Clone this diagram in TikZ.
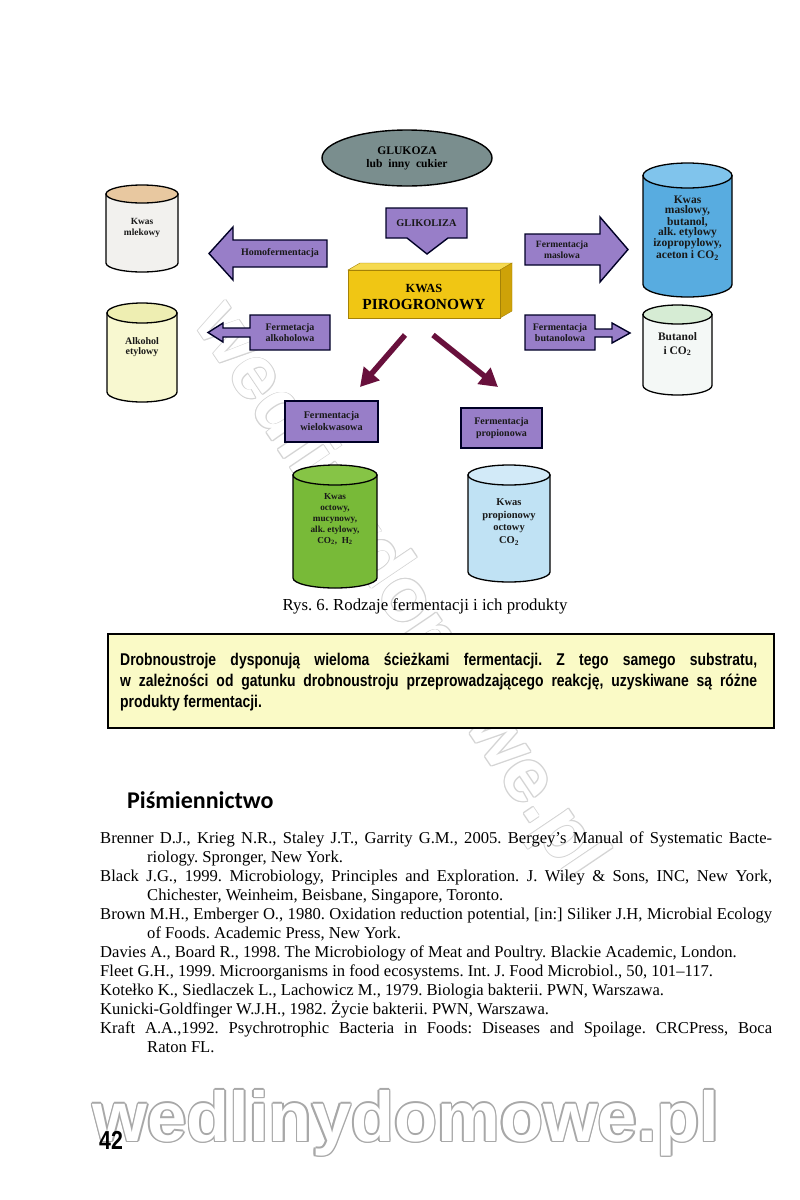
\documentclass[tikz,border=0pt]{standalone}
\usepackage{fontspec}
\setmainfont{Liberation Serif}
\newfontfamily\narrowbold[FakeStretch=0.82]{Liberation Sans Bold}
\newfontfamily\headsans{Carlito}
\newfontfamily\wmsans{Liberation Sans Bold}
\usetikzlibrary{arrows.meta,shapes.geometric,calc}
\frenchspacing
\definecolor{purp}{RGB}{152,126,200}
\definecolor{plum}{RGB}{104,16,60}
\definecolor{glu}{RGB}{122,142,142}
\definecolor{goldF}{RGB}{240,198,20}
\definecolor{goldT}{RGB}{246,218,80}
\definecolor{goldS}{RGB}{206,162,8}
\definecolor{mlekT}{RGB}{232,200,160}
\definecolor{mlekB}{RGB}{242,241,238}
\definecolor{alkT}{RGB}{238,238,178}
\definecolor{alkB}{RGB}{248,248,208}
\definecolor{masT}{RGB}{128,196,236}
\definecolor{masB}{RGB}{88,172,224}
\definecolor{butT}{RGB}{214,236,212}
\definecolor{butB}{RGB}{244,248,246}
\definecolor{grnT}{RGB}{134,196,70}
\definecolor{grnB}{RGB}{120,186,56}
\definecolor{proT}{RGB}{210,234,248}
\definecolor{proB}{RGB}{192,226,244}
\definecolor{noteY}{RGB}{250,250,198}
\definecolor{wmline}{RGB}{168,168,168}
\definecolor{wmfaint}{RGB}{212,212,212}

% cylinder: #1 cx, #2 top-centre y, #3 bottom-centre y, #4 half width, #5 y radius, #6 top colour, #7 body colour
\newcommand{\cyl}[7]{%
  \path[cylline,fill=#7] ({#1-#4},#2) -- ({#1-#4},#3)
     arc[start angle=180,end angle=0,x radius=#4,y radius=#5] -- ({#1+#4},#2) -- cycle;
  \path[cylline,fill=#6] (#1,#2) ellipse[x radius=#4,y radius=#5];
}
% outlined text: #1 name, #2 position, #3 angle, #4 size, #5 outline colour, #6 offset, #7 text
\newcommand{\outlinetext}[7]{%
  \foreach \a in {0,45,...,315}{
    \node[wmtext,font=\wmsans\fontsize{#4}{#4}\selectfont,text=#5,rotate=#3] (#1-\a) at ($(#2)+(\a:#6)$) {#7};
  }
  \node[wmtext,font=\wmsans\fontsize{#4}{#4}\selectfont,text=white,rotate=#3] (#1) at (#2) {#7};
}
\newcommand{\lblsize}[2]{\bfseries\fontsize{#1}{#2}\selectfont}

\tikzset{
  cylline/.style={draw=black,line width=1.3pt},
  parrow/.style={fill=purp,draw=black!85!blue,line width=1.4pt,line join=miter},
  lbl/.style={font=\lblsize{10}{11},align=center,inner sep=0pt,text=black!90},
  darr/.style={draw=plum,line width=5.5pt,-{Triangle[length=18pt,width=20pt]}},
  wmtext/.style={inner sep=0pt},
  reftext/.style={font=\fontsize{16.6}{19}\selectfont,anchor=base west,inner sep=0pt},
  notetext/.style={font=\narrowbold\fontsize{17}{20}\selectfont,anchor=base west,inner sep=0pt}
}

\begin{document}
\begin{tikzpicture}[x=1pt,y=-1pt]
\useasboundingbox (0,0) rectangle (800,1200);
\fill[white] (0,0) rectangle (800,1200);

% diagonal watermark (background)
\outlinetext{wmdiag}{398,592}{-56}{76}{wmfaint}{0.9}{wedlinydomowe.pl}

% GLUKOZA
\node[ellipse,draw=black,line width=1.4pt,fill=glu,minimum width=170pt,minimum height=56pt,
      align=center,font=\lblsize{11.6}{13},inner sep=0pt] (glu) at (407,158)
      {GLUKOZA\\lub\ \ inny\ \ cukier};

% GLIKOLIZA arrow (down)
\path[parrow] (386,208) -- (467,208) -- (467,238) -- (448,238) -- (427,254) -- (407,238) -- (386,238) -- cycle;
\node[lbl,font=\lblsize{10.3}{11}] (glik) at (426.5,223) {GLIKOLIZA};

% KWAS PIROGRONOWY block
\path[fill=goldT,draw=goldS!80!black,line width=0.4pt] (348,270) -- (360,263) -- (512,263) -- (500,270) -- cycle;
\path[fill=goldS,draw=goldS!80!black,line width=0.4pt] (500,270) -- (512,263) -- (512,311) -- (500,318) -- cycle;
\path[fill=goldF,draw=goldS!80!black,line width=0.4pt] (348,270) rectangle (500,318);
\node[font=\lblsize{12.4}{12.4},inner sep=0pt,anchor=base] (kwas) at (424,292) {KWAS};
\node[font=\lblsize{15.4}{15.4},inner sep=0pt,anchor=base] (piro) at (424,309) {PIROGRONOWY};

% left side
\cyl{142}{194}{263}{36}{9}{mlekT}{mlekB}
\node[lbl,font=\lblsize{9.4}{11.2}] (mlek) at (142,228) {Kwas\\mlekowy};
\path[parrow] (327,240) -- (233,240) -- (233,227) -- (209,253.5) -- (233,280) -- (233,267) -- (327,267) -- cycle;
\node[lbl] (homo) at (280,253.5) {Homofermentacja};

\cyl{142}{313}{392}{35}{10}{alkT}{alkB}
\node[lbl,font=\lblsize{10}{10.5}] (alk) at (142,347) {Alkohol\\etylowy};
\path[parrow] (330,315) -- (250,315) -- (250,328) -- (223,328) -- (223,323) -- (208,332.5) -- (223,342) -- (223,337) -- (250,337) -- (250,350) -- (330,350) -- cycle;
\node[lbl] (falk) at (290,332.5) {Fermetacja\\alkoholowa};

% right side
\path[parrow] (525,234) -- (600,234) -- (600,217) -- (628,249.5) -- (600,282) -- (600,265) -- (525,265) -- cycle;
\node[lbl,font=\lblsize{9.6}{11}] (fmas) at (562,249.5) {Fermentacja\\maslowa};
\cyl{687.5}{175.5}{284.5}{44.5}{12.5}{masT}{masB}
\node[lbl,font=\lblsize{11.5}{10.3}] (mas) at (687.5,228) {Kwas\\maslowy,\\butanol,\\alk. etylowy\\izopropylowy,\\aceton i CO\textsubscript{2}};

\path[parrow] (525,315) -- (595,315) -- (595,329) -- (612,329) -- (612,323) -- (630,333) -- (612,343) -- (612,337) -- (595,337) -- (595,350) -- (525,350) -- cycle;
\node[lbl] (fbut) at (560,332.5) {Fermentacja\\butanolowa};
\cyl{677.5}{314.5}{385.5}{34.5}{9.5}{butT}{butB}
\node[lbl,font=\lblsize{11.5}{14}] (but) at (677.5,344) {Butanol\\i CO\textsubscript{2}};

% diagonal arrows
\coordinate (dls) at (405,335);
\coordinate (dle) at (360,387);
\coordinate (drs) at (433,335);
\coordinate (dre) at (498,387);
\draw[darr] (dls) -- (dle);
\draw[darr] (drs) -- (dre);

% bottom branch
\node[parrow,draw,minimum width=93pt,minimum height=41pt,inner sep=0pt] (wbox) at (331.5,421.5) {};
\node[lbl,font=\lblsize{10.2}{12}] (wlab) at (wbox) {Fermentacja\\wielokwasowa};
\node[parrow,draw,minimum width=81pt,minimum height=40pt,inner sep=0pt] (pbox) at (501.5,428) {};
\node[lbl,font=\lblsize{10}{12}] (plab) at (pbox) {Fermentacja\\propionowa};

\cyl{335}{475}{578}{42}{10}{grnT}{grnB}
\node[lbl,font=\lblsize{9.2}{11}] (grn) at (335,519) {Kwas\\octowy,\\mucynowy,\\alk. etylowy,\\CO\textsubscript{2},\ \ H\textsubscript{2}};
\cyl{509}{475}{572}{41}{10}{proT}{proB}
\node[lbl,font=\lblsize{10.5}{12.6}] (pro) at (509,522) {Kwas\\propionowy\\octowy\\CO\textsubscript{2}};

% caption
\node[font=\fontsize{16.8}{16.8}\selectfont,anchor=base,inner sep=0pt] (cap) at (425,610) {Rys. 6. Rodzaje fermentacji i ich produkty};

% note box
\node[draw=black,line width=1.6pt,fill=noteY,minimum width=666pt,minimum height=94pt,inner sep=0pt,anchor=north west] (note) at (107,633) {};
\node[notetext] (n1) at (120,665) {\makebox[637pt][s]{Drobnoustroje dysponują wieloma ścieżkami fermentacji. Z tego samego substratu,}};
\node[notetext] (n2) at (120,686) {\makebox[637pt][s]{w zależności od gatunku drobnoustroju przeprowadzającego reakcję, uzyskiwane są różne}};
\node[notetext] (n3) at (120,707) {produkty fermentacji.};

% references
\node[font=\headsans\bfseries\fontsize{24}{24}\selectfont,anchor=base west,inner sep=0pt] (head) at (127,808) {Piśmiennictwo};
\node[reftext] (r1) at (100,843) {\makebox[672pt][s]{Brenner D.J., Krieg N.R., Staley J.T., Garrity G.M., 2005. Bergey’s Manual of Systematic Bacte-}};
\node[reftext] (r2) at (147,862) {riology. Spronger, New York.};
\node[reftext] (r3) at (100,881) {\makebox[672pt][s]{Black J.G., 1999. Microbiology, Principles and Exploration. J. Wiley \& Sons, INC, New York,}};
\node[reftext] (r4) at (147,900.5) {Chichester, Weinheim, Beisbane, Singapore, Toronto.};
\node[reftext] (r5) at (100,919.5) {\makebox[672pt][s]{Brown M.H., Emberger O., 1980. Oxidation reduction potential, [in:] Siliker J.H, Microbial Ecology}};
\node[reftext] (r6) at (147,938.5) {of Foods. Academic Press, New York.};
\node[reftext] (r7) at (100,957.5) {Davies A., Board R., 1998. The Microbiology of Meat and Poultry. Blackie Academic, London.};
\node[reftext] (r8) at (100,976.5) {Fleet G.H., 1999. Microorganisms in food ecosystems. Int. J. Food Microbiol., 50, 101–117.};
\node[reftext] (r9) at (100,995.5) {Kotełko K., Siedlaczek L., Lachowicz M., 1979. Biologia bakterii. PWN, Warszawa.};
\node[reftext] (r10) at (100,1014.5) {Kunicki-Goldfinger W.J.H., 1982. Życie bakterii. PWN, Warszawa.};
\node[reftext] (r11) at (100,1033.5) {\makebox[672pt][s]{Kraft A.A.,1992. Psychrotrophic Bacteria in Foods: Diseases and Spoilage. CRCPress, Boca}};
\node[reftext] (r12) at (147,1052.5) {Raton FL.};

% bottom watermark
\outlinetext{wmbot}{406,1123}{0}{70.5}{wmline}{1.6}{wedlinydomowe.pl}

% page number
\node[font=\narrowbold\fontsize{26}{26}\selectfont,anchor=base west,inner sep=0pt] (pg) at (99,1149) {42};
\end{tikzpicture}
\end{document}
